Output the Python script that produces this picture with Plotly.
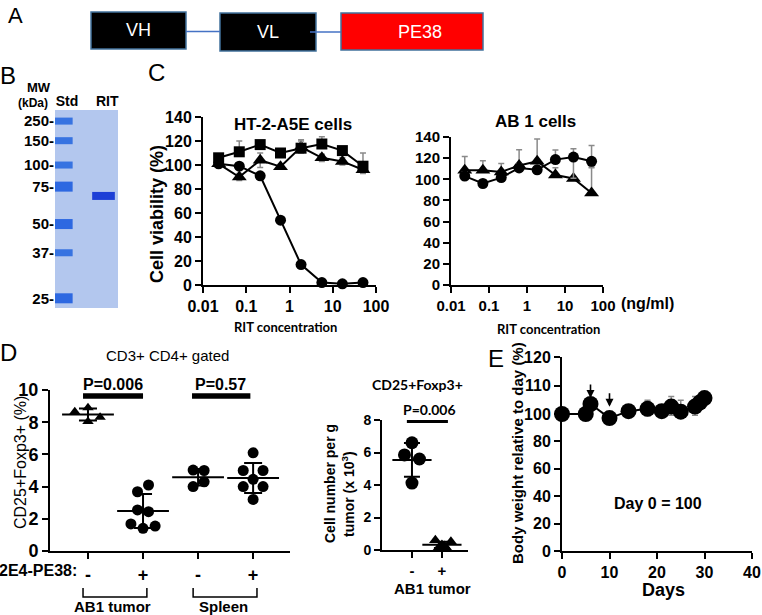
import plotly.graph_objects as go
import numpy as np

W, H = 762, 615
FONT = "Liberation Sans"
HUM = "Lato"

# ---------------- DATA ----------------
# A: construct
construct_domains = ["VH", "VL", "PE38"]

# B: gel
mw_markers = [250, 150, 100, 75, 50, 37, 25]
marker_migration = [5.6, 15.5, 27.8, 38.7, 57.6, 72.1, 95.1]
rit_migration = [43.4]
gel_lanes = ["Std", "RIT"]

# C: viability
rit_conc = [0.023, 0.069, 0.21, 0.62, 1.85, 5.6, 16.7, 50]
conc_ticks = [0.01, 0.1, 1, 10, 100]
conc_ticktext = ["0.01", "0.1", "1", "10", "100"]
viab_ticks = [0, 20, 40, 60, 80, 100, 120, 140]
ht2_circle = [101, 99, 91, 54, 17, 2, 1, 2]
ht2_square = [106, 111, 117, 110, 114, 117.5, 112, 99]
ht2_square_err = [3, 9, 3, 2, 7, 6, 2, 11]
ht2_triangle = [101, 90, 104, 98.6, 115, 106, 103, 96]
ht2_triangle_err = [2, 3, 6, 2, 5, 3, 3, 3]
ab1_circle = [103, 96, 101.6, 110.7, 109, 118.6, 121, 117]
ab1_circle_err_up = [4, 3, 3, 4, 3, 9, 8, 15]
ab1_circle_err_down = [0, 0, 0, 0, 0, 0, 20, 6]
ab1_triangle = [108.5, 108.5, 107, 113, 117, 104, 100.7, 87]
ab1_triangle_err = [13, 9, 8, 15, 21, 7, 0, 25]

# D: Treg frequencies (CD3+CD4+ gated)
d_groups = ["-", "+", "-", "+"]
d_group_names = ["AB1 tumor", "Spleen"]
tumor_minus = [8.65, 8.9, 8.05, 8.3]
tumor_minus_jit = [-0.24, 0.0, 0.0, 0.22]
tumor_plus = [3.68, 4.1, 2.55, 2.44, 1.68, 1.41, 1.55]
tumor_plus_jit = [-0.1, 0.1, -0.1, 0.1, -0.22, 0.0, 0.22]
spleen_minus = [5.03, 5.0, 4.3, 4.0]
spleen_minus_jit = [-0.09, 0.11, 0.11, -0.09]
spleen_plus = [6.1, 5.0, 5.0, 4.45, 4.0, 4.0, 3.2]
spleen_plus_jit = [0.0, -0.18, 0.18, 0.0, -0.18, 0.18, 0.0]
d_pvalues = ["P=0.006", "P=0.57"]
d_pbar_level = 9.62

# D right: cell number per g tumor
num_minus = [6.6, 5.85, 5.6, 4.12]
num_minus_jit = [0.0, -0.25, 0.25, 0.0]
num_plus = [0.6, 0.5, 0.3, 0.15, 0.1, 0.25]
num_plus_jit = [-0.22, 0.3, 0.0, -0.1, 0.15, 0.08]
num_pvalue = "P=0.006"
num_pbar_level = 7.94

# E: body weight
days = [0, 5, 6, 10, 14, 18, 21, 23, 25, 28, 29, 30]
weight = [100, 100, 103.5, 97, 101, 101.8, 101, 102.6, 100.8, 102.6, 104, 105.6]
weight_err = [0, 0, 0, 0, 0, 3, 0, 3.5, 4, 3.5, 0, 0]
treatment_days = [6, 10]
arrow_tips = [105.6, 102.5]
weight_ticks = [0, 20, 40, 60, 80, 100, 110, 120]
day_ticks = [0, 10, 20, 30, 40]

# ---------------- helpers ----------------
def xd(a, b):
    return [a / W, b / W]

def yd(top, bottom):
    return [1 - bottom / H, 1 - top / H]

def PX(px):
    return px / W

def PY(py):
    return 1 - py / H

K = 2.08  # expansion of the 100-120 segment on the body-weight axis

def seg(v):
    v = np.asarray(v, dtype=float)
    return np.where(v <= 100, v, 100 + (v - 100) * K)

def axis(dom, anchor, size=16, **kw):
    d = dict(domain=dom, anchor=anchor, showline=True, linecolor="black", linewidth=2,
             ticks="outside", ticklen=6, tickwidth=2, tickcolor="black", automargin=False,
             showgrid=False, zeroline=False, fixedrange=True,
             tickfont=dict(family=FONT, size=size, color="black", weight="bold"))
    d.update(kw)
    return d

fig = go.Figure()
shapes = []
ann = []

def text(x, y, t, size=16, bold=False, family=FONT, color="black", angle=0, xanchor="center", yanchor="middle", **kw):
    ann.append(dict(x=PX(x), y=PY(y), xref="paper", yref="paper", text=t, showarrow=False,
                    textangle=angle, xanchor=xanchor, yanchor=yanchor,
                    font=dict(family=family, size=size, color=color, weight="bold" if bold else "normal"), **kw))

# ---------------- A ----------------
text(15, 16, "A", size=22)
boxes = [(91, 186, 12, 49, "black"), (220, 316, 13, 51, "black"), (341, 483, 13, 50, "#ff0000")]
for (x0, x1, y0, y1, c), name in zip(boxes, construct_domains):
    shapes.append(dict(type="rect", xref="paper", yref="paper", x0=PX(x0), x1=PX(x1), y0=PY(y1), y1=PY(y0),
                       fillcolor=c, line=dict(color="#41719c", width=1.5)))
    text((x0 + x1) / 2 + (8 if name == "PE38" else 0), (y0 + y1) / 2, name, size=18, color="white")
for (x0, x1, y) in [(186, 220, 31.5), (310, 341, 32)]:
    shapes.append(dict(type="line", xref="paper", yref="paper", x0=PX(x0), x1=PX(x1), y0=PY(y), y1=PY(y),
                       line=dict(color="#4472c4", width=1.5)))

# ---------------- B: gel ----------------
text(8, 75, "B", size=24)
text(39, 87, "MW", size=13, bold=True)
text(33, 103, "(kDa)", size=12, bold=True)
shapes.append(dict(type="rect", xref="x domain", yref="y domain", x0=0, x1=1, y0=0, y1=1,
                   fillcolor="#b3c7ee", line=dict(width=0), layer="below"))
thick = [m in (75, 50, 25) for m in mw_markers]
for th in (False, True):
    xs, ys = [], []
    for m, t in zip(marker_migration, thick):
        if t == th:
            xs += [0.0, 0.28, None]
            ys += [m, m, None]
    fig.add_trace(go.Scatter(x=xs, y=ys, mode="lines", xaxis="x", yaxis="y",
                             line=dict(color="#2a6ae0" if not th else "#1f5ee0", width=10 if th else 7),
                             opacity=0.9, hoverinfo="skip", showlegend=False))
fig.add_trace(go.Scatter(x=[0.59, 0.95], y=rit_migration * 2, mode="lines", xaxis="x", yaxis="y",
                         line=dict(color="#1d3fd6", width=8), hoverinfo="skip", showlegend=False))

# ---------------- C ----------------
text(156, 73, "C", size=24)
eb = dict(color="#8a8a8a", thickness=1.5, width=3)
def cv(xa, ya, y, sym, size, err=None, errm=None):
    e = dict(type="data", array=err, arrayminus=errm if errm is not None else [0] * len(y), visible=True, **eb) if err is not None else None
    fig.add_trace(go.Scatter(x=rit_conc, y=y, mode="lines+markers", xaxis=xa, yaxis=ya,
                             line=dict(color="black", width=2),
                             marker=dict(symbol=sym, size=size, color="black"),
                             error_y=e, cliponaxis=False, showlegend=False))

cv("x2", "y2", ht2_triangle, "triangle-up", 13, ht2_triangle_err, ht2_triangle_err)
cv("x2", "y2", ht2_square, "square", 11, ht2_square_err)
cv("x2", "y2", ht2_circle, "circle", 11)
cv("x3", "y3", ab1_triangle, "triangle-up", 13, ab1_triangle_err)
cv("x3", "y3", ab1_circle, "circle", 11, ab1_circle_err_up, ab1_circle_err_down)

text(157, 214, "Cell viability (%)", size=18, bold=True, angle=-90)
text(293, 124, "HT-2-A5E cells", size=17, bold=True)
text(535, 121, "AB 1 cells", size=17, bold=True)
text(647, 303, "(ng/ml)", size=16, bold=True)
text(285, 327, "RIT concentration", size=13, bold=True, family=HUM)
text(548, 329, "RIT concentration", size=13, bold=True, family=HUM)

# ---------------- D left ----------------
text(8, 352, "D", size=24)
groups = [(0, tumor_minus, tumor_minus_jit, "triangle-up"), (1, tumor_plus, tumor_plus_jit, "circle"),
          (2, spleen_minus, spleen_minus_jit, "circle"), (3, spleen_plus, spleen_plus_jit, "circle")]
means, sds = [], []
for pos, vals, jit, sym in groups:
    fig.add_trace(go.Scatter(x=[pos + j for j in jit], y=vals, mode="markers", xaxis="x4", yaxis="y4",
                             marker=dict(symbol=sym, size=11 if sym == "circle" else 10, color="black"),
                             cliponaxis=False, showlegend=False))
    means.append(float(np.mean(vals)))
    sds.append(float(np.std(vals, ddof=1)))
fig.add_trace(go.Scatter(x=[0, 1, 2, 3], y=means, mode="markers", xaxis="x4", yaxis="y4",
                         marker=dict(symbol="line-ew", size=37, line=dict(color="black", width=2)),
                         error_y=dict(type="data", array=sds, visible=True, color="black", thickness=2, width=9),
                         cliponaxis=False, showlegend=False))
for (a, b), p in zip([(-0.09, 1.0), (1.89, 2.95)], d_pvalues):
    fig.add_trace(go.Scatter(x=[a, b], y=[d_pbar_level] * 2, mode="lines", xaxis="x4", yaxis="y4",
                             line=dict(color="black", width=5.5), showlegend=False))
text(113, 384, d_pvalues[0], size=16, bold=True)
text(220, 384, d_pvalues[1], size=16, bold=True)
text(167, 355, "CD3+ CD4+ gated", size=15)
text(20, 463, "CD25+Foxp3+ (%)", size=16, angle=-90)
text(79, 570, "2E4-PE38:", size=16, bold=True, xanchor="right")
for (a, b), name, cx in zip([(-0.09, 1.07), (1.91, 3.07)], d_group_names, [112, 223]):
    shapes.append(dict(type="path", xref="x4", yref="paper",
                       path=f"M {a},{PY(588)} L {a},{PY(597)} L {b},{PY(597)} L {b},{PY(588)}",
                       line=dict(color="black", width=1.5)))
    text(cx, 606, name, size=15, bold=True)

# ---------------- D right ----------------
fig.add_trace(go.Scatter(x=[0 + j for j in num_minus_jit], y=num_minus, mode="markers", xaxis="x5", yaxis="y5",
                         marker=dict(symbol="circle", size=13, color="black"), cliponaxis=False, showlegend=False))
fig.add_trace(go.Scatter(x=[1 + j for j in num_plus_jit], y=num_plus, mode="markers", xaxis="x5", yaxis="y5",
                         marker=dict(symbol="triangle-up", size=11, color="black"), cliponaxis=False, showlegend=False))
nm = [float(np.mean(num_minus)), float(np.mean(num_plus))]
ns = [float(np.std(num_minus, ddof=1)), float(np.std(num_plus, ddof=1))]
fig.add_trace(go.Scatter(x=[0, 1], y=nm, mode="markers", xaxis="x5", yaxis="y5",
                         marker=dict(symbol="line-ew", size=28, line=dict(color="black", width=2)),
                         error_y=dict(type="data", array=ns, visible=True, color="black", thickness=2, width=8),
                         cliponaxis=False, showlegend=False))
fig.add_trace(go.Scatter(x=[-0.17, 1.2], y=[num_pbar_level] * 2, mode="lines", xaxis="x5", yaxis="y5",
                         line=dict(color="black", width=4), showlegend=False))
text(418, 384, "CD25+Foxp3+", size=14, bold=True, family=HUM)
text(429, 409, num_pvalue, size=14, bold=True, family=HUM)
text(330, 484, "Cell number per g", size=14, bold=True, angle=-90)
text(348, 494, "tumor (x 10<sup>3</sup>)", size=14, bold=True, angle=-90)
text(432, 588, "AB1 tumor", size=15, bold=True)

# ---------------- E ----------------
text(496, 358, "E", size=24)
wseg = seg(weight)
eup = (seg(np.array(weight) + np.array(weight_err)) - wseg).tolist()
edn = (wseg - seg(np.array(weight) - np.array(weight_err))).tolist()
fig.add_trace(go.Scatter(x=days, y=wseg.tolist(), mode="lines+markers", xaxis="x6", yaxis="y6",
                         line=dict(color="black", width=2),
                         marker=dict(symbol="circle", size=16, color="black"),
                         error_y=dict(type="data", array=eup, arrayminus=edn, visible=True, color="#8a8a8a", thickness=1.5, width=3),
                         cliponaxis=False, showlegend=False))
for d, tip in zip(treatment_days, arrow_tips):
    ann.append(dict(x=d, y=float(seg(tip)), xref="x6", yref="y6", text="", showarrow=True,
                    ax=0, ay=-15, arrowhead=2, arrowsize=1, arrowwidth=1.6, arrowcolor="black"))
text(517, 453, "Body weight relative to day (%)", size=15, bold=True, angle=-90)
text(658, 503, "Day 0 = 100", size=16, bold=True)
text(663, 590, "Days", size=18, bold=True)

# ---------------- layout ----------------
fig.update_layout(
    template="none",
    width=W, height=H, margin=dict(l=0, r=0, t=0, b=0, pad=0, autoexpand=False),
    paper_bgcolor="white", plot_bgcolor="rgba(0,0,0,0)",
    showlegend=False, shapes=shapes, annotations=ann,
    xaxis=dict(domain=xd(55, 118), anchor="y", range=[0, 1], side="top", showline=False, showgrid=False,
               zeroline=False, ticks="", tickvals=[0.19, 0.83], ticktext=gel_lanes, fixedrange=True, automargin=False,
               tickfont=dict(family=FONT, size=14, color="black", weight="bold")),
    yaxis=dict(domain=yd(110, 308), anchor="x", range=[100, 0], showline=False, showgrid=False,
               zeroline=False, ticks="", tickvals=marker_migration, ticktext=[f"{m}-" for m in mw_markers],
               ticklabelstandoff=0, fixedrange=True, automargin=False,
               tickfont=dict(family=FONT, size=15, color="black", weight="bold")),
    xaxis2=axis(xd(203, 376), "y2", type="log", range=[-2, 2], tickvals=conc_ticks, ticktext=conc_ticktext),
    yaxis2=axis(yd(117, 285), "x2", range=[0, 140], tickvals=viab_ticks),
    xaxis3=axis(xd(451, 603), "y3", size=15, type="log", range=[-2, 2], tickvals=conc_ticks, ticktext=conc_ticktext),
    yaxis3=axis(yd(137, 285), "x3", size=15, range=[0, 140], tickvals=viab_ticks),
    xaxis4=axis(xd(50, 290), "y4", size=18, range=[-0.69, 3.67], tickvals=[0, 1, 2, 3], ticktext=d_groups),
    yaxis4=axis(yd(390, 551), "x4", size=18, range=[0, 10], tickvals=[0, 2, 4, 6, 8, 10]),
    xaxis5=axis(xd(382, 468), "y5", size=15, range=[-1.0, 1.87], tickvals=[0, 1], ticktext=["-", "+"]),
    yaxis5=axis(yd(420, 550), "x5", size=14, range=[0, 8], tickvals=[0, 2, 4, 6, 8]),
    xaxis6=axis(xd(562, 752), "y6", range=[0, 40], tickvals=day_ticks),
    yaxis6=axis(yd(357, 551), "x6", range=[0, float(seg(120))], tickvals=seg(weight_ticks).tolist(),
                ticktext=[str(v) for v in weight_ticks]),
)

fig.write_html("out.html", config={"displayModeBar": False},
               post_script="document.body.style.margin='0px';document.body.style.overflow='hidden';")
